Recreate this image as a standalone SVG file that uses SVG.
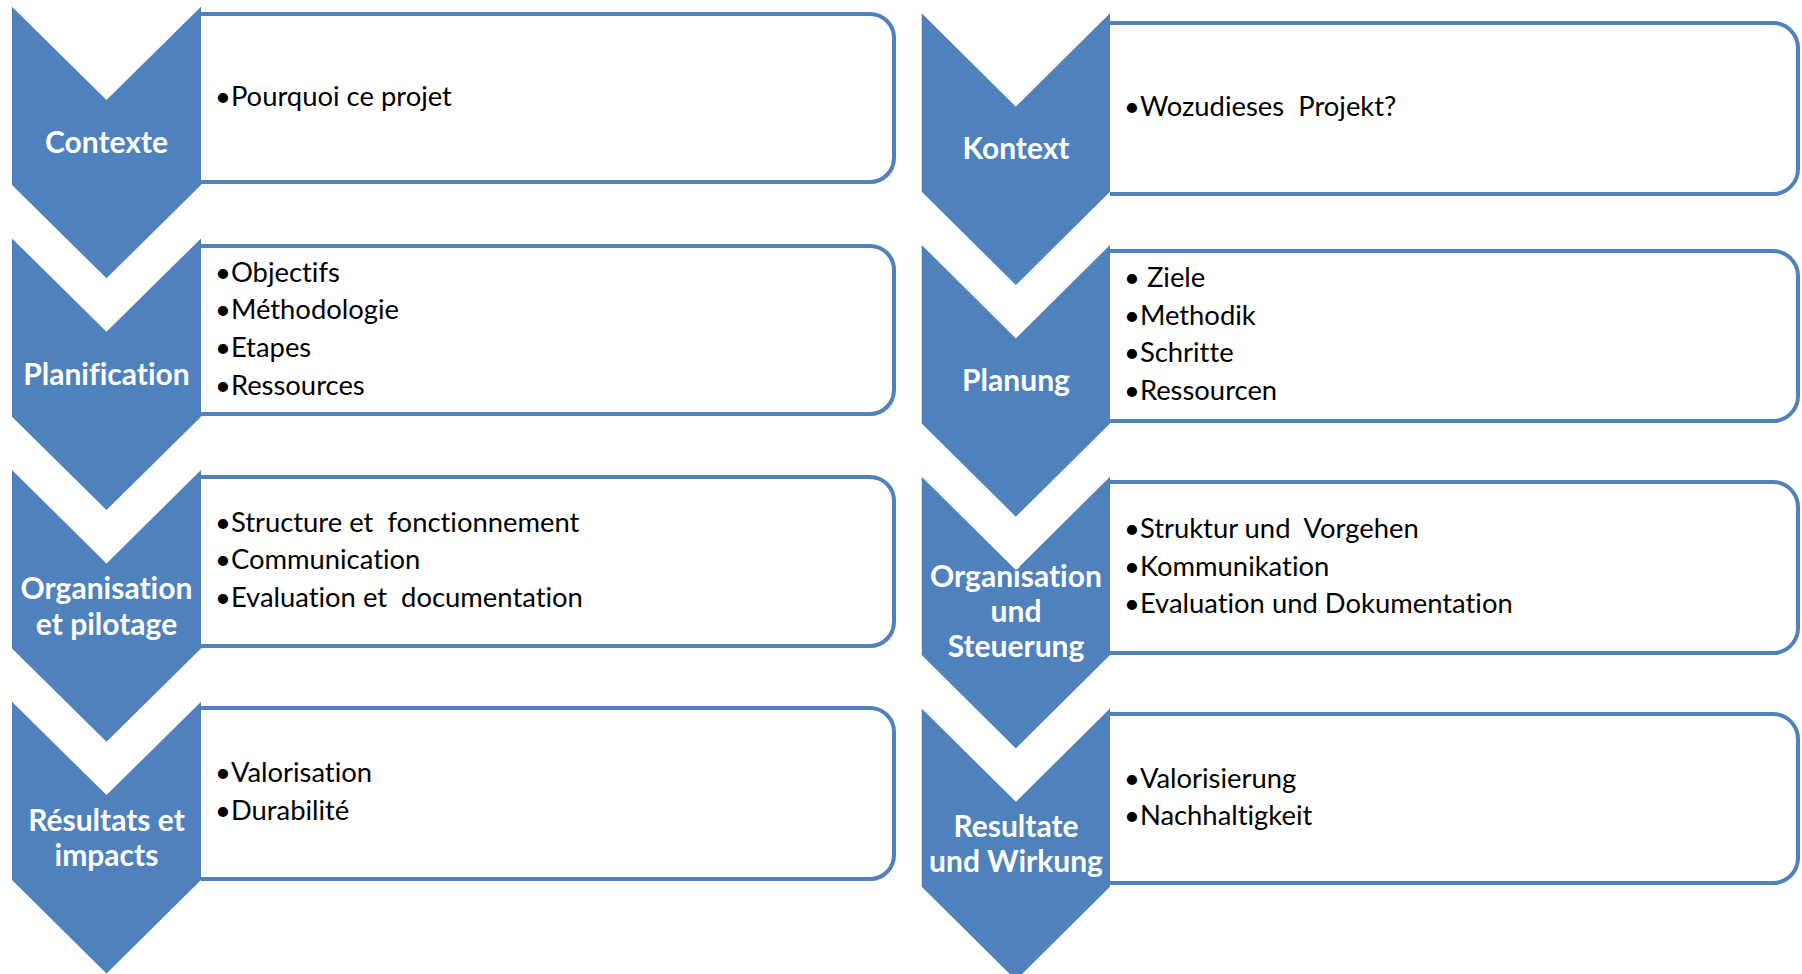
<svg xmlns="http://www.w3.org/2000/svg" width="1802" height="974" viewBox="0 0 1802 974">
  <style>
    .chev { fill: #4F81BD; }
    .box { fill: #FFFFFF; stroke: #4F81BD; stroke-width: 4; }
    text { font-variant-ligatures: none; font-feature-settings: "liga" 0, "clig" 0; }
    .title { font-family: Lato, "Liberation Sans", sans-serif; font-weight: 700; font-size: 30px; fill: #FFFFFF; text-anchor: middle; }
    .item { font-family: Lato, "Liberation Sans", sans-serif; font-size: 27.4px; fill: #000000; white-space: pre; }
  </style>

  <!-- French column -->
  <g id="fr-contexte">
    <path class="box" d="M201,14 H870 A24,24 0 0 1 894,38 V158 A24,24 0 0 1 870,182 H201"/>
    <path class="chev" d="M12,6.7 L106.5,100 L201,6.7 V185 L106.5,278.3 L12,185 Z"/>
    <text class="title" x="106.5" y="153.3">Contexte</text>
    <text class="item" x="215" y="106">•Pourquoi ce projet</text>
  </g>

  <g id="fr-planification">
    <path class="box" d="M201,246 H870 A24,24 0 0 1 894,270 V390 A24,24 0 0 1 870,414 H201"/>
    <path class="chev" d="M12,238.4 L106.5,331.7 L201,238.4 V416.7 L106.5,510 L12,416.7 Z"/>
    <text class="title" x="106.5" y="385">Planification</text>
    <text class="item" x="215" y="281.7">•Objectifs</text>
    <text class="item" x="215" y="319">•Méthodologie</text>
    <text class="item" x="215" y="356.7">•Etapes</text>
    <text class="item" x="215" y="394.5">•Ressources</text>
  </g>

  <g id="fr-organisation">
    <path class="box" d="M201,477 H870 A24,24 0 0 1 894,501 V622 A24,24 0 0 1 870,646 H201"/>
    <path class="chev" d="M12,470.1 L106.5,563.4 L201,470.1 V648.4 L106.5,741.7 L12,648.4 Z"/>
    <text class="title" x="106.5" y="599">Organisation</text>
    <text class="title" x="106.5" y="634.5">et pilotage</text>
    <text class="item" x="215" y="531.7">•Structure et  fonctionnement</text>
    <text class="item" x="215" y="569.3">•Communication</text>
    <text class="item" x="215" y="606.7">•Evaluation et  documentation</text>
  </g>

  <g id="fr-resultats">
    <path class="box" d="M201,708 H870 A24,24 0 0 1 894,732 V855 A24,24 0 0 1 870,879 H201"/>
    <path class="chev" d="M12,701.8 L106.5,795.1 L201,701.8 V880.1 L106.5,973.4 L12,880.1 Z"/>
    <text class="title" x="106.5" y="830.5">Résultats et</text>
    <text class="title" x="106.5" y="866">impacts</text>
    <text class="item" x="215" y="781.7">•Valorisation</text>
    <text class="item" x="215" y="820">•Durabilité</text>
  </g>

  <!-- German column -->
  <g id="de-kontext">
    <path class="box" d="M1110,23 H1773 A25,25 0 0 1 1798,48 V169 A25,25 0 0 1 1773,194 H1110"/>
    <path class="chev" d="M921.7,13.3 L1015.9,106.7 L1110,13.3 V191.7 L1015.9,285 L921.7,191.7 Z"/>
    <text class="title" x="1016" y="158.5">Kontext</text>
    <text class="item" x="1124" y="116">•Wozudieses  Projekt?</text>
  </g>

  <g id="de-planung">
    <path class="box" d="M1110,251 H1773 A25,25 0 0 1 1798,276 V396 A25,25 0 0 1 1773,421 H1110"/>
    <path class="chev" d="M921.7,245 L1015.9,338.4 L1110,245 V423.4 L1015.9,516.7 L921.7,423.4 Z"/>
    <text class="title" x="1016" y="390.5">Planung</text>
    <text class="item" x="1124" y="286.7">• Ziele</text>
    <text class="item" x="1124" y="325">•Methodik</text>
    <text class="item" x="1124" y="362">•Schritte</text>
    <text class="item" x="1124" y="399.5">•Ressourcen</text>
  </g>

  <g id="de-organisation">
    <path class="box" d="M1110,482 H1773 A25,25 0 0 1 1798,507 V628 A25,25 0 0 1 1773,653 H1110"/>
    <path class="chev" d="M921.7,476.7 L1015.9,570.1 L1110,476.7 V655.1 L1015.9,748.4 L921.7,655.1 Z"/>
    <text class="title" x="1016" y="586.7">Organisation</text>
    <text class="title" x="1016" y="621.7">und</text>
    <text class="title" x="1016" y="656.7">Steuerung</text>
    <text class="item" x="1124" y="538.3">•Struktur und  Vorgehen</text>
    <text class="item" x="1124" y="575.7">•Kommunikation</text>
    <text class="item" x="1124" y="613.3">•Evaluation und Dokumentation</text>
  </g>

  <g id="de-resultate">
    <path class="box" d="M1110,714 H1773 A25,25 0 0 1 1798,739 V858 A25,25 0 0 1 1773,883 H1110"/>
    <path class="chev" d="M921.7,708.4 L1015.9,801.8 L1110,708.4 V886.8 L1015.9,980.1 L921.7,886.8 Z"/>
    <text class="title" x="1016" y="836.7">Resultate</text>
    <text class="title" x="1016" y="871.7">und Wirkung</text>
    <text class="item" x="1124" y="788.3">•Valorisierung</text>
    <text class="item" x="1124" y="825">•Nachhaltigkeit</text>
  </g>

  <!-- the chevrons flow straight into one another; there are no separate connector lines -->
  <g id="connectors"/>
</svg>
